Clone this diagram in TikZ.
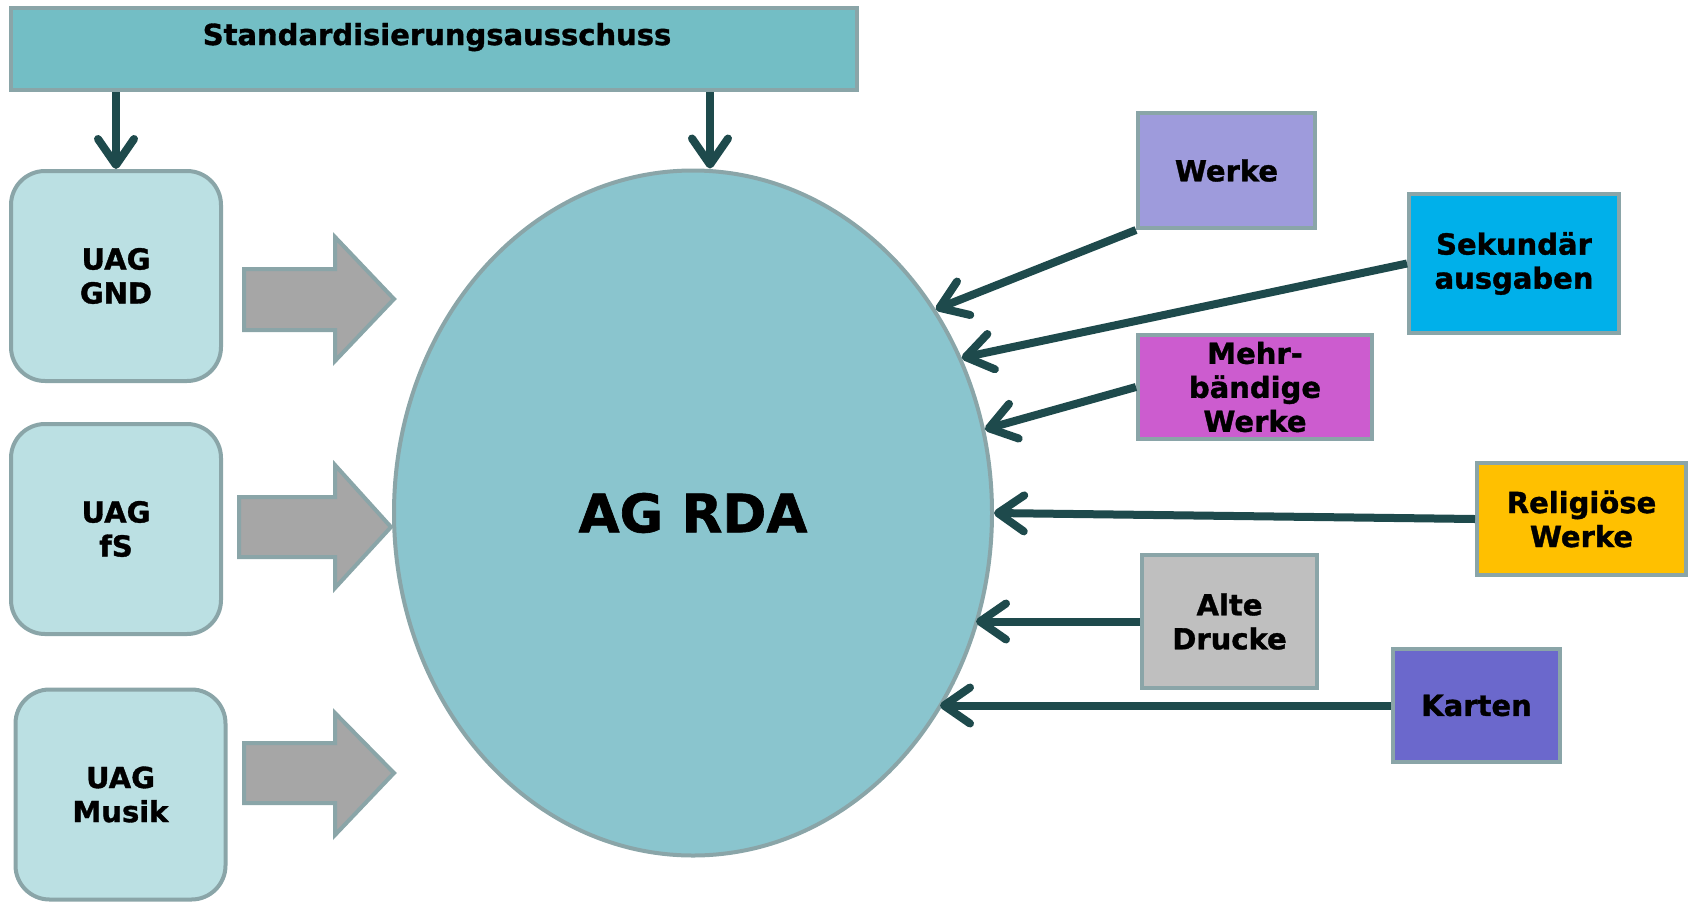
\documentclass[tikz,border=0pt]{standalone}
\usepackage{fontspec}
\setmainfont{DejaVu Sans}[BoldFeatures={FakeBold=1.2}]
\usetikzlibrary{shapes.geometric,arrows.meta}
\definecolor{bordc}{HTML}{8AA5A8}
\definecolor{stdc}{HTML}{73BEC5}
\definecolor{uagc}{HTML}{BBE0E3}
\definecolor{ellc}{HTML}{8AC5CE}
\definecolor{arrc}{HTML}{A6A6A6}
\definecolor{connc}{HTML}{1E4A4C}
\definecolor{werkec}{HTML}{9E9BDC}
\definecolor{sekc}{HTML}{00B0EA}
\definecolor{mehrc}{HTML}{CC5CCF}
\definecolor{relc}{HTML}{FFC000}
\definecolor{altec}{HTML}{BFBFBF}
\definecolor{kartenc}{HTML}{6B68CC}
\tikzset{
  boxstyle/.style={draw=bordc, line width=4pt, inner sep=0pt, align=center,
    font=\bfseries\fontsize{29}{34}\selectfont},
  uagbox/.style={boxstyle, fill=uagc, rounded corners=34pt,
    minimum width=210pt, minimum height=210pt},
  colbox/.style={boxstyle, fill=#1},
  conn/.style={draw=connc, line width=8pt,
    -{Straight Barb[round, length=26pt, width=36pt]}},
  blockarrow/.style={fill=arrc, draw=bordc, line width=4pt, line join=miter}
}
\begin{document}
\begin{tikzpicture}[x=1pt, y=-1pt]
\useasboundingbox (0,0) rectangle (1692,903);
% top bar
\node[boxstyle, fill=stdc, minimum width=846pt, minimum height=82pt] (std) at (434,49) {};
\node[font=\bfseries\fontsize{29}{34}\selectfont, inner sep=0pt, anchor=base] (stdlabel) at (437,45) {Standardisierungsausschuss};
% UAG boxes
\node[uagbox] (gnd) at (116,276) {UAG\\GND};
\node[uagbox] (fs) at (116,529) {UAG\\fS};
\node[uagbox] (musik) at (120.5,794.5) {UAG\\Musik};
% central ellipse
\node[ellipse, draw=bordc, fill=ellc, line width=4pt, inner sep=0pt,
  minimum width=598pt, minimum height=685pt,
  font=\bfseries\fontsize{53}{60}\selectfont] (agrda) at (693,513) {AG RDA};
% block arrows
\draw[blockarrow] (244,269) -- (335,269) -- (335,237) -- (394,299) -- (335,361) -- (335,330) -- (244,330) -- cycle;
\draw[blockarrow] (239,497) -- (335,497) -- (335,465) -- (391,527) -- (335,588) -- (335,557) -- (239,557) -- cycle;
\draw[blockarrow] (244,743) -- (335,743) -- (335,713) -- (394,773) -- (335,835) -- (335,803) -- (244,803) -- cycle;
% right boxes
\node[colbox=werkec, minimum width=177pt, minimum height=115pt] (werke) at (1226.5,170.5) {Werke};
\node[colbox=sekc, minimum width=210pt, minimum height=139pt] (sek) at (1514,263.5) {Sekundär\\ausgaben};
\node[colbox=mehrc, minimum width=234pt, minimum height=104pt] (mehr) at (1255,387) {Mehr-\\bändige\\Werke};
\node[colbox=relc, minimum width=209pt, minimum height=112pt] (rel) at (1581.5,519) {Religiöse\\Werke};
\node[colbox=altec, minimum width=175pt, minimum height=133pt] (alte) at (1229.5,621.5) {Alte\\Drucke};
\node[colbox=kartenc, minimum width=167pt, minimum height=113pt] (karten) at (1476.5,705.5) {Karten};
% connectors from top
\draw[conn] (std.south -| gnd.north) -- (gnd.north);
\coordinate (tr) at (710,92);
\draw[conn] (tr) -- (tr |- agrda.north);
% connectors into ellipse
\coordinate (altetip) at (976,0);
\coordinate (kartentip) at (940,0);
\draw[conn] (werke.south west) -- (agrda.40.4);
\draw[conn] (sek.west) -- (agrda.30.8);
\draw[conn] (mehr.west) -- (agrda.16.9);
\draw[conn] (rel.west) -- (agrda.0.2);
\draw[conn] (alte.west) -- (alte.west -| altetip);
\draw[conn] (karten.west) -- (karten.west -| kartentip);
\end{tikzpicture}
\end{document}
